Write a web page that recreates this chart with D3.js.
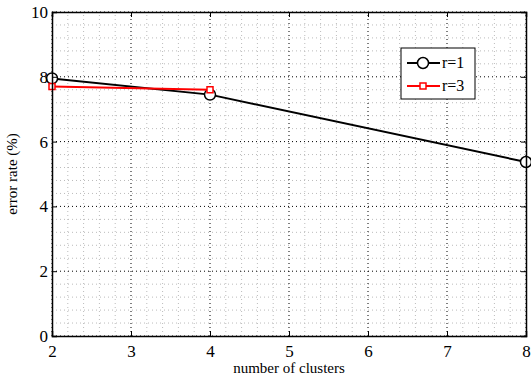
<!DOCTYPE html>
<html>
<head>
<meta charset="utf-8">
<script src="https://cdn.jsdelivr.net/npm/d3@7"></script>
<style>
  body { margin: 0; background: #fff; }
  text { font-family: 'Liberation Serif', 'Times New Roman', serif; }
</style>
</head>
<body>
<div id="chart"></div>
<script>
const clusters = [2, 4, 8];
const r1Values = [7.95, 7.45, 5.37];
const r3Clusters = [2, 4];
const r3Values = [7.7, 7.6];
const xTicks = [2, 3, 4, 5, 6, 7, 8];
const yTicks = [0, 2, 4, 6, 8, 10];
const seriesNames = ['r=1', 'r=3'];

const serif = "'Liberation Serif', 'Times New Roman', serif";
const width = 531, height = 380;
const margin = { top: 12, right: 5, bottom: 44, left: 52 };

const svg = d3.select('#chart').append('svg')
  .attr('width', width)
  .attr('height', height);

const x = d3.scaleLinear().domain([2, 8]).range([margin.left, width - margin.right]);
const y = d3.scaleLinear().domain([0, 10]).range([height - margin.bottom, margin.top]);

const g = svg.append('g');

// minor grid
const xMinor = d3.range(2, 8.001, 0.2).filter(function (d) { return Math.abs(d - Math.round(d)) > 0.01; });
const yMinor = d3.range(0, 10.001, 0.4).filter(function (d) { return Math.abs(d / 2 - Math.round(d / 2)) > 0.01; });

g.selectAll('line.xminor').data(xMinor).enter().append('line')
  .attr('x1', d => x(d)).attr('x2', d => x(d))
  .attr('y1', y(0)).attr('y2', y(10))
  .attr('stroke', '#bbb').attr('stroke-width', 1).attr('stroke-dasharray', '1,3');
g.selectAll('line.yminor').data(yMinor).enter().append('line')
  .attr('x1', x(2)).attr('x2', x(8))
  .attr('y1', d => y(d)).attr('y2', d => y(d))
  .attr('stroke', '#bbb').attr('stroke-width', 1).attr('stroke-dasharray', '1,3');

// major grid
g.selectAll('line.xmajor').data(xTicks).enter().append('line')
  .attr('x1', d => x(d)).attr('x2', d => x(d))
  .attr('y1', y(0)).attr('y2', y(10))
  .attr('stroke', '#000').attr('stroke-width', 1).attr('stroke-dasharray', '1,3');
g.selectAll('line.ymajor').data(yTicks).enter().append('line')
  .attr('x1', x(2)).attr('x2', x(8))
  .attr('y1', d => y(d)).attr('y2', d => y(d))
  .attr('stroke', '#000').attr('stroke-width', 1).attr('stroke-dasharray', '1,3');

// axes (inward ticks, boxed)
const xAxis = d3.axisBottom(x).tickValues(xTicks).tickSize(-5).tickPadding(9).tickFormat(d3.format('d'));
const yAxis = d3.axisLeft(y).tickValues(yTicks).tickSize(-5).tickPadding(4).tickFormat(d3.format('d'));

svg.append('g').attr('transform', 'translate(0,' + y(0) + ')').call(xAxis)
  .attr('font-family', serif)
  .call(a => a.select('.domain').attr('stroke-width', 1.5))
  .selectAll('text').style('font-size', '17px').style('font-family', serif).style('fill', '#000');
svg.append('g').attr('transform', 'translate(' + x(2) + ',0)').call(yAxis)
  .attr('font-family', serif)
  .call(a => a.select('.domain').attr('stroke-width', 1.5))
  .selectAll('text').style('font-size', '17px').style('font-family', serif).style('fill', '#000');
svg.append('g').attr('transform', 'translate(0,' + y(10) + ')')
  .call(d3.axisTop(x).tickValues(xTicks).tickSize(-5).tickFormat(''))
  .select('.domain').attr('stroke-width', 1.5);
svg.append('g').attr('transform', 'translate(' + x(8) + ',0)')
  .call(d3.axisRight(y).tickValues(yTicks).tickSize(-5).tickFormat(''))
  .select('.domain').attr('stroke-width', 1.5);

// labels
svg.append('text')
  .text('number of clusters')
  .attr('x', (x(2) + x(8)) / 2)
  .attr('y', 373)
  .style('font-size', '15px')
  .style('text-anchor', 'middle');

svg.append('text')
  .text('error rate (%)')
  .attr('transform', 'translate(17,' + ((y(0) + y(10)) / 2) + ') rotate(-90)')
  .style('font-size', '15px')
  .style('text-anchor', 'middle');

// series
const line = d3.line().x(d => x(d[0])).y(d => y(d[1]));
const r1 = clusters.map((c, i) => [c, r1Values[i]]);
const r3 = r3Clusters.map((c, i) => [c, r3Values[i]]);

g.append('path').datum(r1).attr('d', line)
  .attr('fill', 'none').attr('stroke', '#000').attr('stroke-width', 2);
g.selectAll('circle.r1').data(r1).enter().append('circle')
  .attr('cx', d => x(d[0])).attr('cy', d => y(d[1])).attr('r', 5.5)
  .attr('fill', '#fff').attr('stroke', '#000').attr('stroke-width', 1.5);

g.append('path').datum(r3).attr('d', line)
  .attr('fill', 'none').attr('stroke', '#f00').attr('stroke-width', 2);
g.selectAll('rect.r3').data(r3).enter().append('rect')
  .attr('x', d => x(d[0]) - 3).attr('y', d => y(d[1]) - 3)
  .attr('width', 6).attr('height', 6)
  .attr('fill', '#fff').attr('stroke', '#f00').attr('stroke-width', 1.5);

// legend
const legend = svg.append('g').attr('transform', 'translate(401,48)');
legend.append('rect')
  .attr('width', 74).attr('height', 51)
  .attr('fill', '#fff').attr('stroke', '#000').attr('stroke-width', 1);

legend.append('line').attr('x1', 6).attr('x2', 39).attr('y1', 15).attr('y2', 15)
  .attr('stroke', '#000').attr('stroke-width', 2);
legend.append('circle').attr('cx', 22).attr('cy', 15).attr('r', 5.5)
  .attr('fill', '#fff').attr('stroke', '#000').attr('stroke-width', 1.5);
legend.append('text').text(seriesNames[0]).attr('x', 41).attr('y', 20).style('font-size', '16px');

legend.append('line').attr('x1', 6).attr('x2', 39).attr('y1', 38).attr('y2', 38)
  .attr('stroke', '#f00').attr('stroke-width', 2);
legend.append('rect').attr('x', 19).attr('y', 35).attr('width', 6).attr('height', 6)
  .attr('fill', '#fff').attr('stroke', '#f00').attr('stroke-width', 1.5);
legend.append('text').text(seriesNames[1]).attr('x', 41).attr('y', 43).style('font-size', '16px');
</script>
</body>
</html>
